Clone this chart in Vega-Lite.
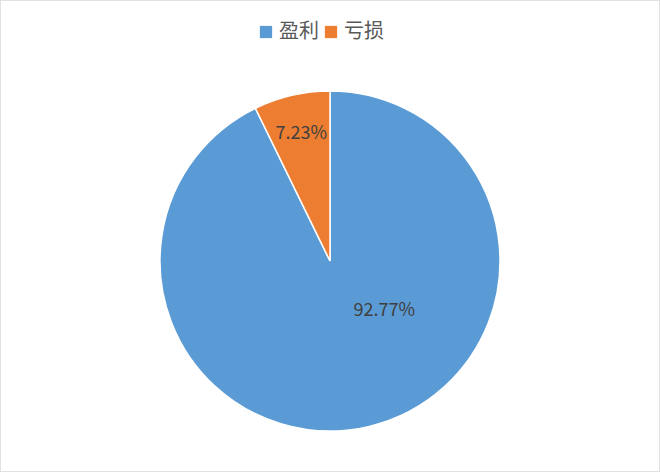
{
  "$schema": "https://vega.github.io/schema/vega-lite/v6.json",
  "width": 660,
  "height": 472,
  "autosize": "none",
  "padding": 0,
  "background": "white",
  "view": {"stroke": "#d9d9d9", "strokeWidth": 1.5},
  "config": {
    "font": "Noto Sans CJK SC",
    "view": {"stroke": "#d9d9d9", "strokeWidth": 1.5}
  },
  "data": {
    "values": [
      {"category": "盈利", "value": 92.77, "label": "92.77%"},
      {"category": "亏损", "value": 7.23, "label": "7.23%"}
    ]
  },
  "layer": [
    {
      "mark": {
        "type": "arc",
        "outerRadius": 170,
        "stroke": "white",
        "strokeWidth": 1.5,
        "x": {"expr": "width / 2"},
        "y": {"expr": "height / 2 + 25"}
      },
      "encoding": {
        "theta": {"field": "value", "type": "quantitative", "stack": true},
        "order": {"field": "value", "type": "quantitative", "sort": "descending"},
        "color": {
          "field": "category",
          "type": "nominal",
          "title": null,
          "scale": {"domain": ["盈利", "亏损"], "range": ["#5b9bd5", "#ed7d31"]},
          "legend": {
            "orient": "none",
            "legendX": 256,
            "legendY": 22,
            "direction": "horizontal",
            "symbolType": "square",
            "symbolSize": 150,
            "symbolStrokeWidth": 0,
            "labelFontSize": 20,
            "labelColor": "#595959",
            "labelFont": "Noto Sans CJK SC",
            "labelOffset": 3,
            "columnPadding": 2,
            "symbolOffset": 0
          }
        }
      }
    },
    {
      "transform": [{"filter": "datum.category === '亏损'"}],
      "mark": {
        "type": "text",
        "radius": 130,
        "theta": 6.06,
        "fontSize": 18,
        "color": "#404040",
        "x": {"expr": "width / 2"},
        "y": {"expr": "height / 2 + 25"}
      },
      "encoding": {
        "text": {"field": "label"}
      }
    },
    {
      "transform": [{"filter": "datum.category === '盈利'"}],
      "mark": {
        "type": "text",
        "radius": 74,
        "theta": 2.32,
        "fontSize": 18,
        "color": "#404040",
        "x": {"expr": "width / 2"},
        "y": {"expr": "height / 2 + 25"}
      },
      "encoding": {
        "text": {"field": "label"}
      }
    }
  ]
}
